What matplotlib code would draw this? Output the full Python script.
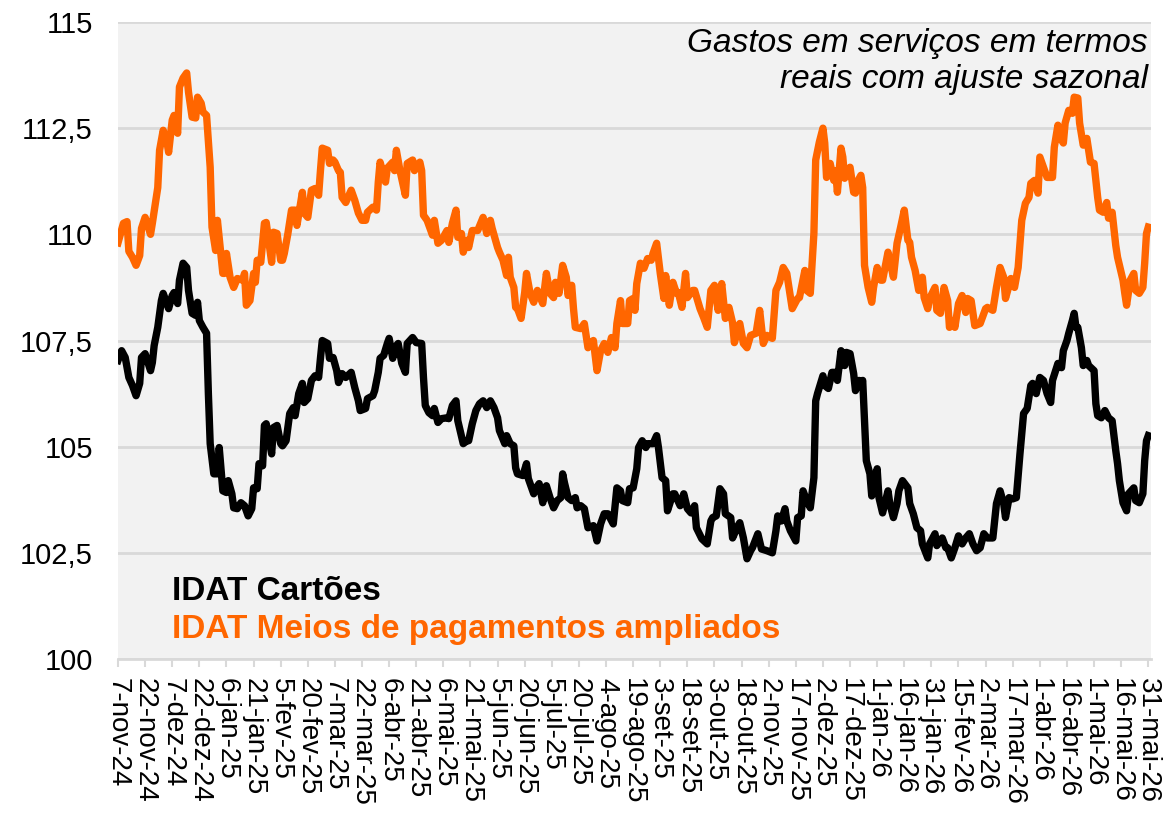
import numpy as np
import pandas as pd
import matplotlib
matplotlib.use("Agg")
import matplotlib.pyplot as plt

plt.rcParams['font.family'] = ['Liberation Sans', 'DejaVu Sans']

# day offset from 7-nov-24 and index value
amp_day = [0, 3, 5, 6, 8, 10, 12, 13, 15, 18, 19, 22, 23, 25, 27, 28, 30, 31, 33, 34,
           36, 38, 39, 41, 43, 44, 46, 47, 49, 51, 52, 54, 55, 58, 59, 60, 62, 64, 66, 69,
           70, 71, 73, 75, 76, 77, 79, 81, 82, 85, 86, 88, 90, 91, 92, 94, 96, 98, 99, 102,
           103, 105, 107, 109, 111, 112, 113, 116, 117, 119, 120, 122, 123, 124, 126, 129, 131, 133, 135, 137,
           138, 141, 143, 144, 145, 148, 149, 152, 153, 154, 156, 159, 160, 163, 164, 167, 168, 169, 171, 174,
           175, 177, 179, 182, 183, 185, 187, 188, 190, 191, 193, 194, 196, 199, 202, 204, 206, 207, 210, 211,
           213, 215, 216, 217, 219, 220, 221, 223, 225, 226, 228, 230, 232, 235, 237, 239, 241, 242, 244, 246,
           248, 249, 251, 252, 253, 256, 258, 260, 263, 265, 267, 269, 271, 273, 275, 276, 278, 279, 282, 283,
           285, 286, 287, 289, 291, 293, 295, 296, 298, 300, 302, 303, 305, 307, 309, 310, 312, 314, 315, 318,
           319, 322, 324, 326, 328, 330, 332, 334, 336, 338, 340, 341, 344, 346, 348, 350, 353, 355, 357, 359,
           362, 364, 366, 368, 370, 373, 376, 377, 380, 381, 383, 385, 386, 388, 390, 391, 392, 394, 396, 397,
           398, 400, 401, 402, 403, 405, 407, 408, 409, 411, 412, 413, 415, 417, 418, 420, 422, 423, 426, 427,
           429, 431, 433, 435, 437, 438, 439, 441, 443, 445, 446, 448, 449, 452, 453, 455, 457, 459, 460, 462,
           463, 465, 467, 469, 470, 472, 474, 477, 480, 481, 484, 486, 488, 490, 491, 494, 496, 498, 500, 502,
           504, 505, 507, 509, 510, 512, 514, 517, 518, 520, 521, 523, 524, 526, 528, 529, 531, 532, 534, 536,
           538, 540, 542, 543, 545, 547, 548, 550, 552, 553, 556, 557, 558, 560, 562, 563, 565, 567, 568, 569,
           570]
amp_val = [109.8, 110.26, 110.3, 109.6, 109.46, 109.27, 109.5, 110.14, 110.4, 110.0, 110.26, 111.1, 111.98, 112.45, 112.2, 111.93, 112.69, 112.8, 112.38, 113.47,
           113.68, 113.8, 113.35, 112.76, 112.74, 113.23, 113.09, 112.88, 112.8, 111.58, 110.17, 109.62, 110.33, 109.08, 109.08, 109.55, 108.99, 108.75, 108.96, 108.92,
           109.08, 108.33, 108.44, 109.08, 108.87, 109.39, 109.34, 110.26, 110.28, 109.34, 110.05, 110.02, 109.39, 109.39, 109.55, 110.02, 110.57, 110.57, 110.21, 110.99,
           110.5, 110.4, 111.04, 111.08, 110.92, 111.5, 112.03, 111.98, 111.67, 111.75, 111.7, 111.5, 111.46, 110.87, 110.75, 111.04, 110.8, 110.5, 110.33, 110.33,
           110.52, 110.64, 110.57, 111.23, 111.7, 111.23, 111.56, 111.7, 111.5, 111.98, 111.5, 110.92, 111.67, 111.75, 111.5, 111.7, 111.5, 110.45, 110.33, 109.98,
           110.33, 109.79, 109.86, 110.09, 109.81, 110.26, 110.57, 109.93, 110.02, 109.58, 109.86, 109.69, 110.09, 110.09, 110.4, 110.02, 110.33, 110.14, 109.69, 109.58,
           109.39, 109.03, 109.46, 108.99, 108.75, 108.28, 108.25, 108.02, 108.63, 109.08, 108.61, 108.4, 108.68, 108.37, 109.08, 108.61, 108.51, 108.87, 108.61, 109.27,
           108.99, 108.56, 108.8, 108.25, 107.81, 107.78, 107.9, 107.33, 107.5, 106.79, 107.26, 107.43, 107.22, 107.57, 107.33, 107.9, 108.44, 107.9, 107.9, 108.44,
           108.49, 108.21, 108.84, 109.32, 109.2, 109.43, 109.39, 109.55, 109.79, 109.08, 108.49, 109.03, 108.33, 108.87, 108.61, 108.63, 108.28, 109.08, 108.51, 108.68,
           108.68, 108.25, 108.04, 107.81, 108.68, 108.8, 108.21, 108.84, 108.02, 108.28, 107.92, 107.45, 107.9, 107.43, 107.33, 107.62, 107.67, 108.21, 107.43, 107.62,
           107.55, 108.68, 108.87, 109.22, 109.08, 108.25, 108.49, 108.51, 109.15, 108.68, 108.61, 110.02, 111.75, 112.17, 112.5, 112.15, 111.34, 111.67, 111.27, 111.5,
           110.99, 112.03, 111.82, 111.32, 111.44, 111.58, 110.99, 110.97, 111.23, 111.39, 111.1, 109.27, 108.75, 108.4, 108.75, 109.22, 108.92, 108.92, 109.58, 109.39,
           108.99, 109.79, 110.17, 110.57, 109.86, 109.81, 109.46, 109.15, 108.68, 108.99, 108.51, 108.25, 108.49, 108.75, 108.21, 108.14, 108.75, 108.44, 107.81, 107.97,
           107.81, 108.37, 108.56, 108.16, 108.49, 108.44, 107.85, 107.9, 108.25, 108.28, 108.21, 108.75, 109.22, 108.99, 108.49, 108.96, 108.75, 109.22, 110.33, 110.73,
           110.87, 111.2, 111.27, 110.97, 111.82, 111.58, 111.34, 111.34, 112.05, 112.57, 112.29, 112.15, 112.62, 112.92, 112.85, 113.23, 113.21, 112.62, 112.1, 112.26,
           111.7, 111.67, 110.87, 110.57, 110.52, 110.75, 110.38, 110.52, 109.74, 109.46, 108.92, 108.61, 108.33, 108.92, 109.08, 108.68, 108.61, 108.75, 109.32, 110.02,
           110.17]

car_day = [0, 2, 4, 6, 8, 10, 12, 13, 15, 18, 19, 20, 22, 24, 25, 28, 30, 31, 33, 34,
           36, 38, 39, 41, 43, 44, 45, 47, 49, 50, 51, 53, 55, 56, 58, 60, 61, 63, 64, 66,
           68, 70, 72, 74, 75, 77, 78, 80, 81, 82, 85, 86, 88, 90, 91, 93, 95, 97, 98, 100,
           102, 103, 105, 107, 109, 111, 112, 113, 116, 117, 119, 121, 122, 124, 126, 129, 131, 133, 134, 137,
           138, 141, 142, 144, 145, 147, 149, 150, 152, 154, 155, 157, 159, 160, 163, 165, 168, 169, 170, 172,
           174, 175, 177, 179, 182, 183, 185, 187, 188, 191, 193, 194, 196, 198, 200, 202, 204, 206, 208, 210,
           211, 214, 215, 217, 219, 220, 221, 224, 226, 227, 230, 231, 233, 235, 237, 239, 241, 243, 245, 246,
           247, 249, 251, 253, 254, 256, 258, 260, 263, 265, 267, 269, 271, 274, 276, 278, 279, 282, 283, 285,
           287, 288, 290, 292, 293, 296, 298, 299, 301, 303, 304, 307, 308, 311, 313, 315, 317, 319, 320, 323,
           326, 328, 329, 331, 333, 335, 336, 339, 340, 343, 344, 346, 348, 350, 351, 354, 356, 359, 362, 364,
           365, 367, 369, 370, 372, 375, 376, 378, 379, 381, 383, 385, 386, 387, 390, 391, 393, 395, 397, 398,
           400, 401, 402, 403, 405, 407, 408, 410, 411, 412, 414, 416, 417, 418, 420, 421, 423, 426, 427, 429,
           431, 432, 434, 437, 438, 440, 442, 444, 445, 448, 449, 452, 453, 456, 458, 459, 461, 463, 465, 467,
           469, 471, 473, 475, 477, 479, 481, 484, 486, 488, 490, 491, 493, 495, 497, 499, 501, 503, 505, 506,
           508, 510, 512, 514, 516, 517, 520, 522, 523, 525, 526, 528, 529, 530, 531, 533, 534, 536, 537, 540,
           541, 542, 544, 546, 548, 550, 552, 553, 554, 556, 558, 559, 562, 563, 565, 567, 568, 569, 570]
car_val = [107.03, 107.26, 107.1, 106.63, 106.44, 106.2, 106.49, 107.1, 107.19, 106.79, 106.98, 107.38, 107.81, 108.44, 108.61, 108.25, 108.56, 108.63, 108.37, 108.92,
           109.32, 109.22, 108.68, 108.14, 108.09, 108.4, 107.97, 107.81, 107.67, 106.25, 105.07, 104.36, 104.36, 104.98, 103.96, 103.92, 104.2, 103.89, 103.56, 103.54,
           103.68, 103.61, 103.37, 103.54, 104.03, 104.01, 104.6, 104.55, 105.5, 105.54, 104.83, 105.45, 105.5, 105.07, 105.02, 105.14, 105.78, 105.92, 105.73, 106.25,
           106.49, 106.04, 106.13, 106.56, 106.67, 106.63, 107.08, 107.5, 107.43, 107.08, 107.1, 106.79, 106.51, 106.72, 106.63, 106.75, 106.39, 106.08, 105.85, 105.9,
           106.13, 106.2, 106.32, 106.75, 107.08, 107.15, 107.43, 107.55, 107.08, 107.38, 107.43, 106.96, 106.75, 107.43, 107.57, 107.45, 107.43, 106.63, 105.97, 105.8,
           105.73, 105.9, 105.57, 105.66, 105.68, 105.66, 105.97, 106.08, 105.61, 105.07, 105.14, 105.14, 105.54, 105.85, 106.01, 106.08, 105.92, 106.08, 105.92, 105.68,
           105.38, 105.07, 105.26, 105.07, 105.02, 104.5, 104.36, 104.32, 104.6, 104.25, 103.89, 104.01, 104.13, 103.68, 104.08, 103.8, 103.56, 103.73, 103.8, 104.36,
           104.15, 103.8, 103.73, 103.8, 103.56, 103.61, 103.54, 103.09, 103.14, 102.78, 103.18, 103.42, 103.42, 103.18, 104.03, 103.96, 103.73, 103.68, 104.01, 104.03,
           104.48, 104.98, 105.14, 104.98, 105.07, 105.07, 105.26, 104.98, 104.27, 104.2, 103.49, 103.89, 103.89, 103.61, 103.89, 103.54, 103.44, 103.61, 103.09, 102.83,
           102.71, 103.25, 103.33, 103.37, 104.01, 103.89, 103.42, 103.33, 102.85, 103.14, 103.21, 102.85, 102.36, 102.55, 102.62, 102.95, 102.59, 102.55, 102.5, 103.02,
           103.37, 103.25, 103.54, 103.25, 103.02, 102.78, 103.33, 103.37, 103.96, 103.73, 103.56, 104.27, 106.08, 106.25, 106.67, 106.44, 106.37, 106.75, 106.75, 106.56,
           107.26, 106.98, 106.91, 107.22, 107.19, 106.72, 106.32, 106.56, 106.44, 106.56, 104.67, 104.36, 103.84, 104.13, 104.48, 103.8, 103.44, 103.96, 103.66, 103.33,
           103.66, 103.96, 104.2, 104.03, 103.66, 103.42, 103.09, 103.02, 102.71, 102.38, 102.71, 102.95, 102.67, 102.85, 102.62, 102.62, 102.38, 102.62, 102.9, 102.71,
           102.85, 102.95, 102.71, 102.55, 102.62, 102.95, 102.85, 102.85, 103.66, 103.96, 103.66, 103.33, 103.8, 103.77, 103.8, 104.83, 105.78, 105.9, 106.44, 106.49,
           106.25, 106.63, 106.56, 106.25, 106.04, 106.56, 106.96, 106.86, 107.26, 107.5, 107.67, 107.97, 108.14, 107.81, 107.81, 107.33, 106.91, 107.03, 106.91, 106.79,
           106.01, 105.73, 105.68, 105.85, 105.68, 105.61, 104.91, 104.6, 104.2, 103.68, 103.49, 103.89, 104.03, 103.73, 103.68, 103.89, 104.67, 105.14, 105.26]

meses = ['jan', 'fev', 'mar', 'abr', 'mai', 'jun', 'jul', 'ago', 'set', 'out', 'nov', 'dez']
start = pd.Timestamp('2024-11-07')
tick_days = np.arange(0, 571, 15)
tick_dates = [start + pd.Timedelta(days=int(d)) for d in tick_days]
tick_labels = ['%d-%s-%s' % (t.day, meses[t.month - 1], str(t.year)[2:]) for t in tick_dates]

y_ticks = [100, 102.5, 105, 107.5, 110, 112.5, 115]
y_labels = ['100', '102,5', '105', '107,5', '110', '112,5', '115']

orange = '#ff6600'

fig = plt.figure(figsize=(11.65, 8.17), dpi=100)
ax = fig.add_axes([118 / 1165, (817 - 659) / 817, 1033 / 1165, 637 / 817])
ax.set_facecolor('#f2f2f2')

ax.plot(amp_day, amp_val, color=orange, lw=5.3, solid_joinstyle='round', zorder=3)
ax.plot(car_day, car_val, color='black', lw=5.3, solid_joinstyle='round', zorder=3)

ax.set_xlim(0, 571.5)
ax.set_ylim(100, 115)
ax.set_yticks(y_ticks)
ax.set_yticklabels(y_labels, fontsize=21)
ax.set_xticks(tick_days)
ax.set_xticklabels(tick_labels, fontsize=20, rotation=270, ha='center', va='top')

ax.grid(axis='y', color='#d9d9d9', lw=2)
ax.set_axisbelow(True)
for s in ['top', 'right', 'left']:
    ax.spines[s].set_visible(False)
ax.spines['bottom'].set_color('#d9d9d9')
ax.spines['bottom'].set_linewidth(2)
ax.tick_params(axis='y', length=0, pad=18)
ax.tick_params(axis='x', length=6, width=1.5, color='#d9d9d9', pad=8)

ax.text(0.997, 0.953, 'Gastos em serviços em termos', transform=ax.transAxes,
        ha='right', va='baseline', fontsize=24, style='italic')
ax.text(0.997, 0.896, 'reais com ajuste sazonal', transform=ax.transAxes,
        ha='right', va='baseline', fontsize=24, style='italic')

ax.text(0.052, 0.0925, 'IDAT Cartões', transform=ax.transAxes,
        ha='left', va='baseline', fontsize=24, fontweight='bold', color='black')
ax.text(0.052, 0.033, 'IDAT Meios de pagamentos ampliados', transform=ax.transAxes,
        ha='left', va='baseline', fontsize=24, fontweight='bold', color=orange)

fig.savefig('out.png', dpi=100)
